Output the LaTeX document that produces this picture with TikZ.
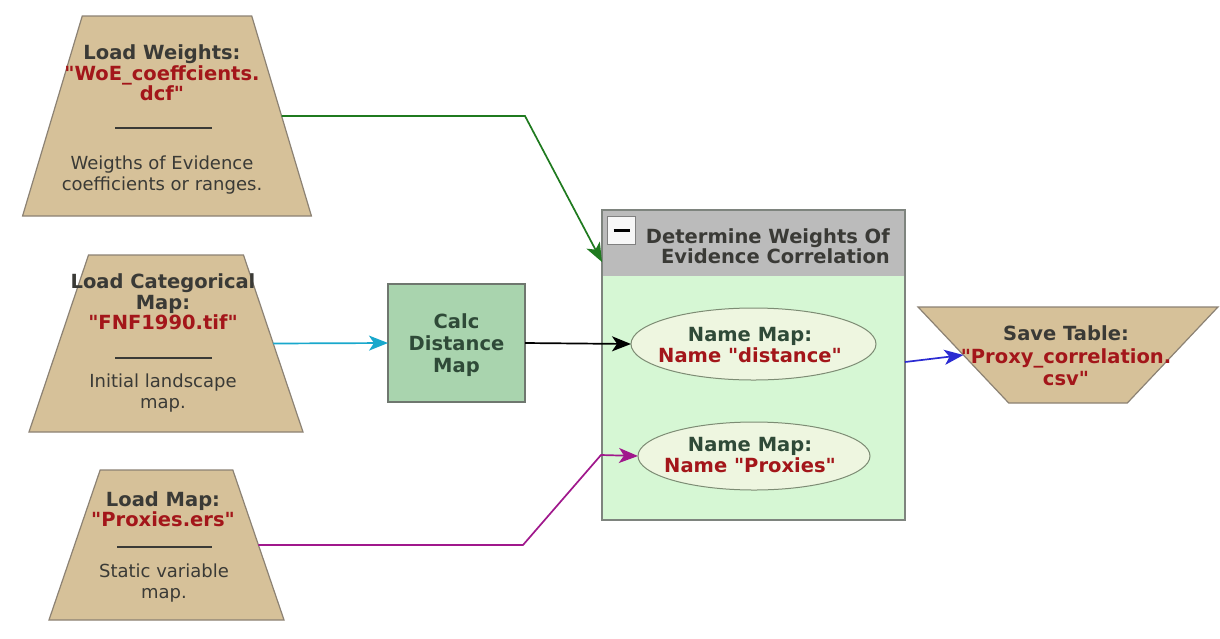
\documentclass[tikz,border=0pt]{standalone}
\usepackage{fontspec}
\setmainfont{DejaVu Sans}[Ligatures=TeXOff]
\usetikzlibrary{shapes.geometric,arrows.meta}

\definecolor{tanfill}{HTML}{D6C199}
\definecolor{tanline}{HTML}{8C8274}
\definecolor{calcfill}{HTML}{A9D4AE}
\definecolor{calcline}{HTML}{6F776F}
\definecolor{groupfill}{HTML}{D6F7D4}
\definecolor{groupline}{HTML}{7E847E}
\definecolor{headgray}{HTML}{BBBBBB}
\definecolor{ellfill}{HTML}{EEF6E0}
\definecolor{ellline}{HTML}{7D8C74}
\definecolor{inkdark}{HTML}{3A3A36}
\definecolor{inkgreen}{HTML}{2F4A38}
\definecolor{fnred}{HTML}{A3161A}
\definecolor{lkgreen}{HTML}{1F7A1F}
\definecolor{lkcyan}{HTML}{19A8CC}
\definecolor{lkmagenta}{HTML}{A0188C}
\definecolor{lkblue}{HTML}{2B2BD2}

\newcommand\hdtxt{\fontsize{19.5}{20.5}\selectfont\bfseries}
\newcommand\bodytxt{\fontsize{18}{20.5}\selectfont}
\newcommand\fname[1]{\textcolor{fnred}{#1}}

\tikzset{
  loadshape/.style={trapezium, trapezium stretches=true, draw=tanline,
    fill=tanfill, line width=1.2pt, inner sep=2pt, outer sep=0pt},
  headtext/.style={align=center, text=inkdark, font=\hdtxt, inner sep=0pt},
  desctext/.style={align=center, text=inkdark, font=\bodytxt, inner sep=0pt},
  sepline/.style={draw=inkdark, line width=1.3pt},
  calcbox/.style={rectangle, draw=calcline, fill=calcfill, line width=1.2pt,
    minimum width=137pt, minimum height=118pt, inner sep=0pt, outer sep=0pt},
  namemap/.style={ellipse, draw=ellline, fill=ellfill, line width=1pt,
    inner sep=2pt, outer sep=0pt},
  conn/.style={line width=1.7pt, -{Stealth[length=19pt,width=15pt,inset=5pt]}},
}

\begin{document}
\begin{tikzpicture}[x=1pt,y=-1pt]
\useasboundingbox[fill=white] (0,0) rectangle (1220,638);

% ---- input loaders ----
\node[loadshape, minimum width=289pt, minimum height=200pt,
      trapezium left angle=70.6, trapezium right angle=70.6] (lw) at (167,116) {};
\node[headtext] (lw-t) at (162,73) {Load Weights:\\\fname{"WoE\_coeffcients.}\\\fname{dcf"}};
\draw[sepline] (115,128) -- (212,128);
\node[desctext] (lw-d) at (162,175) {Weigths of Evidence\\coefficients or ranges.};

\node[loadshape, minimum width=274pt, minimum height=177pt,
      trapezium left angle=69, trapezium right angle=69] (lc) at (166,343.5) {};
\node[headtext] (lc-t) at (163,302) {Load Categorical\\Map:\\\fname{"FNF1990.tif"}};
\draw[sepline] (115,358) -- (212,358);
\node[desctext] (lc-d) at (163,393) {Initial landscape\\map.};

\node[loadshape, minimum width=235pt, minimum height=150pt,
      trapezium left angle=68.9, trapezium right angle=68.9] (lm) at (166.5,545) {};
\node[headtext] (lm-t) at (163,509) {Load Map:\\\fname{"Proxies.ers"}};
\draw[sepline] (117,547) -- (212,547);
\node[desctext] (lm-d) at (164,583) {Static variable\\map.};

% ---- distance calculation ----
\node[calcbox] (calc) at (456.5,343) {};
\node[headtext, text=inkgreen, font=\fontsize{19.5}{22}\selectfont\bfseries]
  (calc-t) at (456.5,345) {Calc\\Distance\\Map};

% ---- correlation group ----
\node[rectangle, fill=groupfill, minimum width=303pt, minimum height=310pt,
      inner sep=0pt, outer sep=0pt] (grp) at (753.5,365) {};
\fill[headgray] (grp.north west) rectangle ([yshift=-66pt]grp.north east);
\draw[groupline, line width=1.2pt] (grp.north west) rectangle (grp.south east);
\node[rectangle, draw=gray, fill=white!94!gray, line width=1pt,
      minimum size=28pt, inner sep=0pt] (mbtn) at (621.5,230) {};
\draw[black, line width=3pt] ([xshift=-8pt]mbtn.center) -- ([xshift=8pt]mbtn.center);
\node[headtext, align=right, anchor=east] (grp-t) at (890,246)
  {Determine Weights Of\\Evidence Correlation};

\node[namemap, minimum width=245pt, minimum height=72pt] (nm1) at (753.5,344) {};
\node[headtext, text=inkgreen] (nm1-t) at (750,345) {Name Map:\\\fname{Name "distance"}};
\node[namemap, minimum width=232pt, minimum height=68pt] (nm2) at (754,456) {};
\node[headtext, text=inkgreen] (nm2-t) at (750,455) {Name Map:\\\fname{Name "Proxies"}};

% ---- output ----
\node[loadshape, shape border rotate=180, minimum width=300pt, minimum height=96pt,
      trapezium left angle=52.6, trapezium right angle=52.6] (st) at (1068,355) {};
\node[headtext, font=\fontsize{19.5}{22.5}\selectfont\bfseries] (st-t) at (1066,356)
  {Save Table:\\\fname{"Proxy\_correlation.}\\\fname{csv"}};

% ---- connectors ----
\coordinate (gbend) at (525,116);
\coordinate (grpin) at ([yshift=-52pt]grp.north west);
\coordinate (mbend1) at (523,545);
\coordinate (mbend2) at (601,455);
\coordinate (bstart) at ([yshift=3pt]grp.east);

\draw[conn, lkgreen] (lw.east) -- (gbend) -- (grpin);
\draw[conn, lkcyan] (lc.east) -- (calc.west);
\draw[conn, black] (calc.east) -- (nm1.west);
\draw[conn, lkmagenta] (lm.east) -- (mbend1) -- (mbend2) -- (nm2.west);
\draw[conn, lkblue] (bstart) -- (st.west);
\end{tikzpicture}
\end{document}
